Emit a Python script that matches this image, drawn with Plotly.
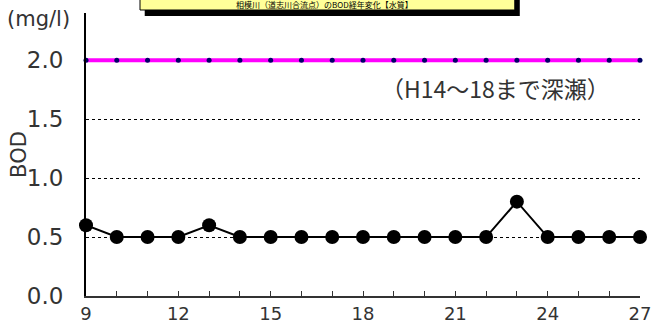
import plotly.graph_objects as go

years = list(range(9, 28))
bod = [0.6, 0.5, 0.5, 0.5, 0.6, 0.5, 0.5, 0.5, 0.5, 0.5, 0.5, 0.5, 0.5, 0.5, 0.8, 0.5, 0.5, 0.5, 0.5]
standard = [2.0] * len(years)
x_ticks = [9, 12, 15, 18, 21, 24, 27]
y_ticks = [0.0, 0.5, 1.0, 1.5, 2.0]
y_tick_labels = ["0.0", "0.5", "1.0", "1.5", "2.0"]

JP = "Noto Sans CJK JP"
NUM = "DejaVu Sans"

fig = go.Figure()

fig.add_trace(go.Scatter(
    x=years, y=standard, mode="lines+markers",
    line=dict(color="#FF00FF", width=4),
    marker=dict(color="#000066", size=5),
    cliponaxis=False, showlegend=False, hoverinfo="skip"))

fig.add_trace(go.Scatter(
    x=years, y=bod, mode="lines+markers",
    line=dict(color="black", width=2),
    marker=dict(color="black", size=14),
    cliponaxis=False, showlegend=False))

fig.update_xaxes(
    range=[9, 27], tickmode="array", tickvals=x_ticks,
    ticktext=[str(v) for v in x_ticks],
    minor=dict(dtick=1, tick0=9, ticks="inside", ticklen=5, tickcolor="#333", tickwidth=1),
    ticks="inside", ticklen=5, tickcolor="#333",
    showline=True, linecolor="#333", linewidth=2,
    showgrid=False, zeroline=False, automargin=False,
    tickfont=dict(family=NUM, size=18, color="#333"))

fig.update_yaxes(
    range=[0, 2.4], tickmode="array", tickvals=y_ticks, ticktext=y_tick_labels,
    ticks="", showline=True, linecolor="black", linewidth=2,
    showgrid=True, gridcolor="black", griddash="dot", gridwidth=1,
    zeroline=False, ticklabelstandoff=16, automargin=False,
    tickfont=dict(family=NUM, size=23, color="#333"))

fig.update_layout(
    width=652, height=325,
    margin=dict(l=86, r=12, t=13, b=29, autoexpand=False),
    plot_bgcolor="white", paper_bgcolor="white",
    shapes=[
        dict(type="rect", xref="paper", yref="paper",
             x0=0.106, x1=0.783, y0=0.989, y1=1.08,
             fillcolor="black", line=dict(width=0), layer="above"),
        dict(type="rect", xref="paper", yref="paper",
             x0=0.0975, x1=0.774, y0=1.0106, y1=1.09,
             fillcolor="#FFFF99", line=dict(color="black", width=1), layer="above"),
    ],
    annotations=[
        dict(text="相模川（道志川合流点）のBOD経年変化【水質】", xref="paper", yref="paper",
             x=0.43, y=1.0106, xanchor="center", yanchor="bottom", yshift=-2,
             showarrow=False, font=dict(family=JP, size=8, color="black")),
        dict(text="(mg/l)", xref="paper", yref="paper", x=-0.146, y=0.979,
             xanchor="left", yanchor="middle", showarrow=False,
             font=dict(family=NUM, size=21, color="#333")),
        dict(text="BOD", xref="paper", yref="paper", x=-0.122, y=0.5,
             xanchor="center", yanchor="middle", textangle=-90, showarrow=False,
             font=dict(family=NUM, size=21, color="#333")),
        dict(text="（H14～18まで深瀬）", xref="x", yref="y", x=22.29, y=1.76,
             xanchor="center", yanchor="middle", showarrow=False,
             font=dict(family=JP, size=23, color="#333")),
    ],
)

fig.write_html("out.html", config={"displayModeBar": False},
               post_script="document.body.style.margin='0';")
